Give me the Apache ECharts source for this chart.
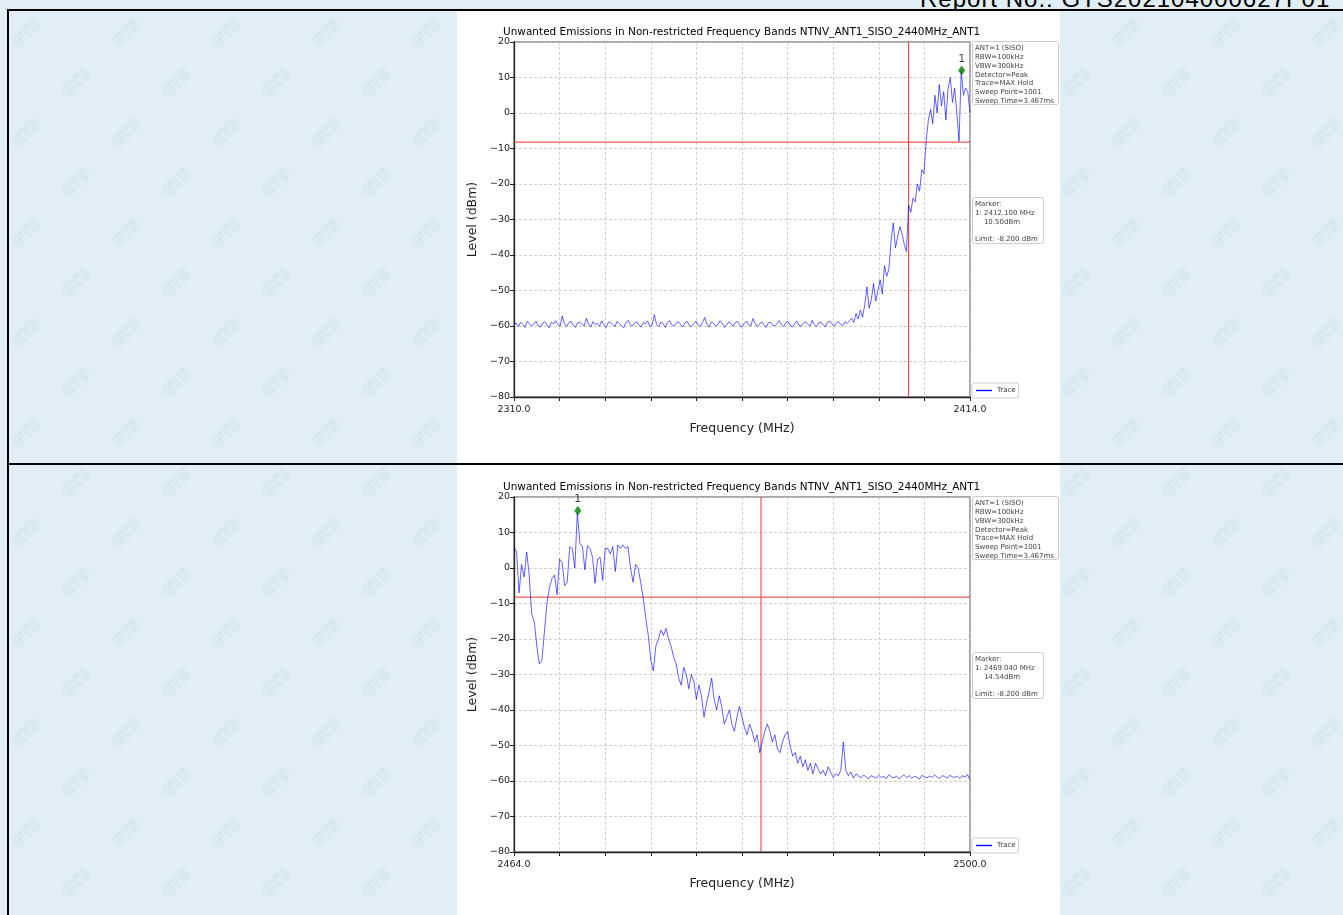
<!DOCTYPE html>
<html>
<head>
<meta charset="utf-8">
<script src="https://cdn.jsdelivr.net/npm/echarts@6/dist/echarts.min.js"></script>
<style>
  html, body { margin:0; padding:0; width:1343px; height:915px; overflow:hidden; }
  body {
    background-color:#e1eef6;
    background-image:url("data:image/svg+xml;utf8,<svg xmlns='http://www.w3.org/2000/svg' width='100' height='100'><g fill='none' stroke='%23d0e2ed' stroke-width='0.9' font-family='DejaVu Sans' font-weight='bold' font-size='15'><text transform='translate(18,48) rotate(-45)'>GTS</text><text transform='translate(68,98) rotate(-45)'>GTS</text></g></svg>");
    position:relative; font-family:'DejaVu Sans', sans-serif;
  }
  #hdr { position:absolute; left:920px; top:-13px; font-family:'Liberation Sans', Arial, sans-serif; font-size:24px; letter-spacing:1px; color:#000; white-space:nowrap; line-height:24px; }
  .hl { position:absolute; background:#000; }
  .chart { position:absolute; background:#fff; }
</style>
</head>
<body>
<div id="hdr">Report No.: GTS202104000627F01</div>
<div class="hl" style="left:7px; top:9px; width:1336px; height:2px;"></div>
<div class="hl" style="left:7px; top:9px; width:2px; height:906px;"></div>
<div class="hl" style="left:7px; top:463px; width:1336px; height:2px;"></div>
<div id="c1" class="chart" style="left:457px; top:11px; width:603px; height:452px;"></div>
<div id="c2" class="chart" style="left:457px; top:465px; width:603px; height:450px;"></div>
<script>
// ---------- shared texts ----------
const chartTitle = 'Unwanted Emissions in Non-restricted Frequency Bands NTNV_ANT1_SISO_2440MHz_ANT1';
const infoLines = ['ANT=1 (SISO)', 'RBW=100kHz', 'VBW=300kHz', 'Detector=Peak', 'Trace=MAX Hold', 'Sweep Point=1001', 'Sweep Time=3.467ms'];
const yRange = [-80, 20];
const limitLevel = -8.2;

// ---------- chart 1 ----------
const span1 = [2310, 2414];
const xTickLabels1 = ['2310.0', '2414.0'];
const edgeFreq1 = 2400;
const marker1 = [2412.1, 12];
const markerLines1 = ['Marker:', '1: 2412.100 MHz', '    10.50dBm', '', 'Limit: -8.200 dBm'];
const level1 = [
-59.8,-59.1,-60.2,-58.9,-59.6,-60.4,-58.7,-59.3,-60.0,-59.5,
-58.6,-59.9,-60.3,-59.2,-58.8,-59.7,-60.5,-59.0,-59.4,-58.5,
-59.6,-60.1,-57.2,-59.3,-60.2,-59.0,-58.7,-59.8,-60.4,-59.1,
-58.9,-59.5,-60.0,-57.8,-59.4,-60.3,-58.8,-59.6,-59.2,-60.1,
-58.6,-59.7,-60.4,-59.0,-58.9,-59.5,-60.2,-58.7,-59.3,-59.9,
-60.5,-59.1,-58.4,-59.6,-60.0,-59.2,-58.8,-59.7,-60.3,-59.0,
-59.4,-58.6,-60.1,-59.8,-56.8,-59.5,-60.2,-58.9,-59.3,-60.4,
-59.0,-58.5,-59.7,-60.0,-59.2,-58.8,-59.6,-60.3,-59.1,-58.7,
-59.9,-60.2,-59.4,-58.6,-59.8,-60.1,-59.0,-57.6,-59.5,-60.3,
-58.9,-59.3,-60.0,-59.6,-58.5,-59.2,-60.4,-59.7,-58.8,-59.4,
-60.1,-59.0,-58.7,-59.9,-60.3,-59.3,-58.6,-59.6,-60.0,-57.9,
-59.2,-60.2,-59.5,-58.8,-59.7,-60.4,-59.1,-58.9,-59.8,-60.0,
-59.3,-58.5,-59.6,-60.2,-59.0,-58.7,-59.9,-60.3,-59.4,-58.6,
-59.8,-60.1,-59.2,-58.8,-59.5,-60.0,-58.4,-59.7,-60.2,-59.1,
-58.9,-59.6,-60.3,-59.0,-58.6,-59.4,-60.1,-59.2,-58.7,-59.5,
-59.9,-58.8,-59.3,
-58.5,-57.8,-59.0,-56.5,-58.0,-55.5,-57.5,-54.0,-49.0,-55.0,
-52.5,-48.0,-53.0,-50.0,-47.0,-51.0,-43.0,-46.0,-44.0,-36.0,
-31.0,-38.0,-35.0,-32.0,-34.0,-37.0,-39.0,-26.0,-28.0,-24.0,
-25.0,-20.0,-22.0,-16.0,-17.0,-8.0,-2.0,1.0,-3.0,5.0,
0.0,8.0,2.0,6.0,-2.0,7.0,10.0,3.0,7.0,0.0,
-8.0,12.0,5.0,7.0,6.0,0.0
];

// ---------- chart 2 ----------
const span2 = [2464, 2500];
const xTickLabels2 = ['2464.0', '2500.0'];
const edgeFreq2 = 2483.5;
const marker2 = [2469.04, 16.1];
const markerLines2 = ['Marker:', '1: 2469.040 MHz', '    14.54dBm', '', 'Limit: -8.200 dBm'];
const level2 = [
6.0,4.5,-7.0,1.0,-2.5,4.5,-2.0,-13.0,-15.0,-22.0,
-27.0,-26.0,-18.0,-10.0,-5.5,-3.0,-2.0,-7.5,2.5,1.5,
-5.0,-4.0,6.0,5.5,0.0,15.5,7.0,6.0,-0.5,6.3,
5.5,3.0,-4.3,2.5,3.0,-3.5,5.5,5.5,4.0,6.0,
-1.0,6.5,5.5,6.5,5.5,6.0,0.0,-4.0,1.0,0.0,
-4.0,-8.5,-14.0,-19.0,-26.0,-29.0,-22.0,-20.0,-17.5,-19.0,
-17.0,-20.0,-22.0,-25.0,-27.0,-31.0,-33.0,-28.0,-30.0,-34.0,
-30.0,-32.0,-37.0,-33.0,-36.0,-42.0,-38.0,-35.0,-31.0,-37.0,
-40.0,-36.0,-39.0,-44.0,-42.0,-40.0,-44.0,-46.0,-42.0,-39.0,
-42.0,-45.0,-47.0,-44.0,-46.0,-49.0,-47.0,-52.0,-49.0,-46.0,
-44.0,-46.0,-49.0,-47.0,-51.0,-52.0,-49.0,-47.0,-46.0,-50.0,
-53.0,-52.0,-55.0,-53.0,-56.0,-54.0,-57.0,-55.0,-58.0,-55.0,
-56.5,-58.0,-57.0,-58.5,-56.0,-57.5,-59.0,-58.0,-58.5,-57.0,
-49.0,-57.0,-58.5,-57.5,-59.2,-58.0,
-58.6,-59.1,-58.3,-58.9,-59.4,-58.5,-58.8,-59.2,-58.4,-59.0,
-58.7,-59.3,-58.2,-58.9,-59.1,-58.6,-59.4,-58.8,-58.3,-59.0,
-58.5,-59.2,-58.7,-58.9,-59.5,-58.4,-58.8,-59.1,-58.6,-59.0,
-58.3,-58.9,-59.3,-58.5,-58.7,-59.2,-58.4,-58.8,-59.0,-58.6,
-59.3,-58.5,-58.9,-58.2,-59.6
];

const FONT = 'DejaVu Sans';
const RED = '#f03030';

function sweep(span, levels) {
  const n = levels.length;
  return levels.map((v, i) => [span[0] + i * (span[1] - span[0]) / (n - 1), v]);
}

function build(el, cfg) {
  const chart = echarts.init(el, null, { renderer: 'canvas' });
  const gridL = 57, gridT = cfg.gridTop, gridW = 456, gridH = 355;
  const boxX = 515;
  const option = {
    animation: false,
    backgroundColor: '#fff',
    title: {
      text: chartTitle, left: 46, top: cfg.gridTop - 15, padding: 0,
      textStyle: { fontFamily: FONT, fontSize: 10.5, fontWeight: 'normal', color: '#000' }
    },
    legend: {
      left: boxX, top: gridT + 341, orient: 'vertical',
      data: [{ name: 'Trace', icon: 'rect' }],
      itemWidth: 16, itemHeight: 1.4, padding: [4, 3, 4, 4],
      selectedMode: false,
      backgroundColor: '#fff', borderColor: '#cccccc', borderWidth: 1, borderRadius: 2,
      textStyle: { fontFamily: FONT, fontSize: 7, color: '#333' }
    },
    grid: {
      left: gridL, top: gridT, width: gridW, height: gridH,
      show: true, borderColor: '#8a8a8a', borderWidth: 1.5, backgroundColor: '#fff'
    },
    xAxis: [
      { type: 'value', min: cfg.span[0], max: cfg.span[1], show: false },
      {
        type: 'value', min: 0, max: 10, interval: 1, position: 'bottom',
        name: 'Frequency (MHz)', nameLocation: 'middle', nameGap: 25,
        nameTextStyle: { fontFamily: FONT, fontSize: 12.5, color: '#222' },
        axisLine: { show: true, lineStyle: { color: '#222', width: 1.3 } },
        axisTick: { show: true, inside: false, length: 4, lineStyle: { color: '#222' } },
        axisLabel: {
          fontFamily: FONT, fontSize: 9.5, color: '#222', margin: 8,
          showMinLabel: true, showMaxLabel: true,
          formatter: v => v === 0 ? cfg.xLabels[0] : (v === 10 ? cfg.xLabels[1] : '')
        },
        splitLine: { show: true, lineStyle: { color: '#c4c4c4', type: [3, 2], width: 0.8 } }
      }
    ],
    yAxis: {
      type: 'value', min: yRange[0], max: yRange[1], interval: 10,
      name: 'Level (dBm)', nameLocation: 'middle', nameGap: 24,
      nameTextStyle: { fontFamily: FONT, fontSize: 12.5, color: '#222' },
      axisLine: { show: true, lineStyle: { color: '#222', width: 1.3 } },
      axisTick: { show: true, inside: false, length: 4, lineStyle: { color: '#222' } },
      axisLabel: {
        fontFamily: FONT, fontSize: 9.5, color: '#222', margin: 4,
        formatter: v => v < 0 ? '\u2212' + Math.abs(v) : String(v)
      },
      splitLine: { show: true, lineStyle: { color: '#c4c4c4', type: [3, 2], width: 0.8 } }
    },
    series: [
      {
        name: 'Limit', type: 'line', xAxisIndex: 0, yAxisIndex: 0,
        data: [[cfg.span[0], limitLevel], [cfg.span[1], limitLevel]],
        showSymbol: false, symbol: 'none', silent: true, emphasis: { disabled: true },
        lineStyle: { color: RED, width: 1 }, itemStyle: { color: RED }, z: 2
      },
      {
        name: 'Edge', type: 'line', xAxisIndex: 0, yAxisIndex: 0,
        data: [[cfg.edge, yRange[0]], [cfg.edge, yRange[1]]],
        showSymbol: false, symbol: 'none', silent: true, emphasis: { disabled: true },
        lineStyle: { color: RED, width: 1 }, itemStyle: { color: RED }, z: 2
      },
      {
        name: 'Trace', type: 'line', xAxisIndex: 0, yAxisIndex: 0,
        data: sweep(cfg.span, cfg.levels), showSymbol: false, symbol: 'none',
        sampling: null, clip: true, emphasis: { disabled: true },
        lineStyle: { color: 'rgba(0,0,255,0.78)', width: 0.8 },
        itemStyle: { color: '#0000ff' },
        z: 3
      },
      {
        name: 'Marker', type: 'scatter', xAxisIndex: 0, yAxisIndex: 0,
        data: [cfg.marker], symbol: 'diamond', symbolSize: [7, 10],
        emphasis: { disabled: true },
        itemStyle: { color: '#008000' },
        label: { show: true, position: 'top', distance: 1, formatter: '1', fontFamily: FONT, fontSize: 11, color: '#111' },
        z: 5
      }
    ],
    graphic: [
      { type: 'rect', left: boxX, top: gridT - 1, shape: { width: 86, height: 63, r: 2 }, style: { fill: '#fff', stroke: '#cccccc', lineWidth: 1 }, z: 10 },
      { type: 'text', left: boxX + 3, top: gridT + 2, style: { text: infoLines.join('\n'), fontFamily: FONT, fontSize: 7, lineHeight: 8.8, fill: '#444' }, z: 11 },
      { type: 'rect', left: boxX, top: gridT + 155, shape: { width: 71, height: 46, r: 2 }, style: { fill: '#fff', stroke: '#cccccc', lineWidth: 1 }, z: 10 },
      { type: 'text', left: boxX + 3, top: gridT + 158, style: { text: cfg.markerLines.join('\n'), fontFamily: FONT, fontSize: 7, lineHeight: 8.8, fill: '#444' }, z: 11 }
    ]
  };
  chart.setOption(option);
}

build(document.getElementById('c1'), { span: span1, levels: level1, edge: edgeFreq1, marker: marker1, markerLines: markerLines1, xLabels: xTickLabels1, gridTop: 31 });
build(document.getElementById('c2'), { span: span2, levels: level2, edge: edgeFreq2, marker: marker2, markerLines: markerLines2, xLabels: xTickLabels2, gridTop: 32 });
</script>
</body>
</html>
